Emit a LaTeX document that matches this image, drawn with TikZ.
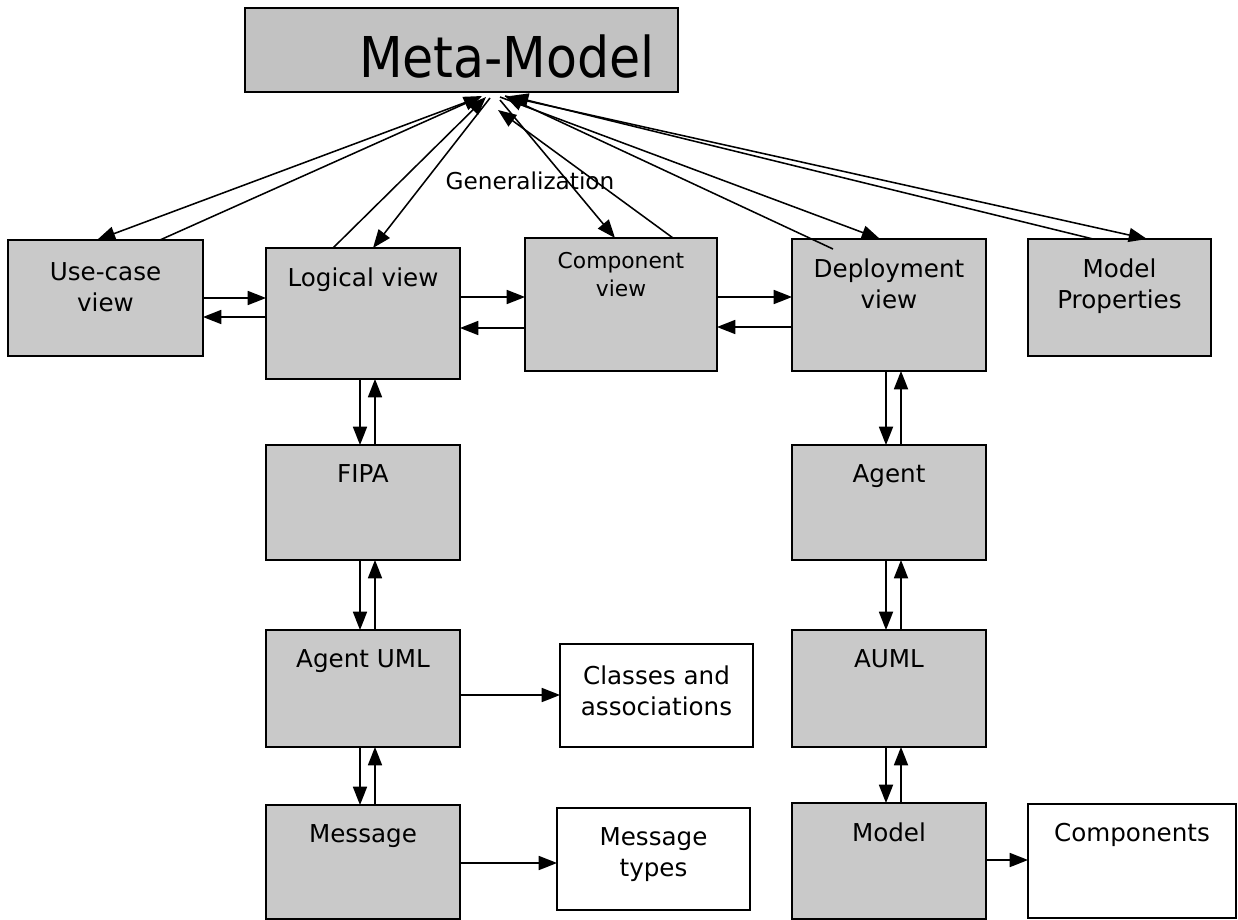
\documentclass[tikz,border=0pt]{standalone}
\usepackage{fontspec}
\setmainfont{DejaVu Sans}
\newfontfamily\metafont[FakeStretch=0.9]{DejaVu Sans}
\usetikzlibrary{arrows.meta,calc}

\begin{document}
\begin{tikzpicture}[x=0.025cm,y=-0.025cm,
  wh/.style 2 args={minimum width=#1*0.025cm,minimum height=#2*0.025cm},
  viewbox/.style={draw,line width=1.3pt,fill=boxgray,inner sep=0pt,outer sep=0pt},
  plainbox/.style={viewbox,fill=white},
  txt/.style={anchor=north,align=center,inner sep=0pt,yshift=-0.48cm,font=\fontsize{17.5}{22}\selectfont},
  arr/.style={-{Triangle[length=13pt,width=10pt]},line width=1.1pt}]
\definecolor{boxgray}{HTML}{C9C9C9}
\definecolor{metagray}{HTML}{C2C2C2}
\useasboundingbox (0,0) rectangle (1238,920);
\node[viewbox,fill=metagray,wh={433}{84}] (meta) at (461.5,50) {};
\node[inner sep=0pt,font=\metafont\fontsize{40}{40}\selectfont] (metatext) at (507,57) {Meta-Model};
\node[viewbox,wh={195}{116},label={[txt,yshift=-0.07cm]north:{Use-case\\view}}] (usecase) at (105.5,298) {};
\node[viewbox,wh={194}{131},label={[txt]north:Logical view}] (logical) at (363,313.5) {};
\node[viewbox,wh={192}{133},label={[txt,yshift=0.12cm,font=\fontsize{15.5}{19.5}\selectfont]north:{Component\\view}}] (component) at (621,304.5) {};
\node[viewbox,wh={194}{132},label={[txt]north:{Deployment\\view}}] (deploy) at (889,305) {};
\node[viewbox,wh={183}{117},label={[txt]north:{Model\\Properties}}] (modelprop) at (1119.5,297.5) {};
\node[viewbox,wh={194}{115},label={[txt]north:FIPA}] (fipa) at (363,502.5) {};
\node[viewbox,wh={194}{117},label={[txt]north:Agent UML}] (agentuml) at (363,688.5) {};
\node[viewbox,wh={194}{114},label={[txt]north:Message}] (message) at (363,862) {};
\node[viewbox,wh={194}{115},label={[txt]north:Agent}] (agent) at (889,502.5) {};
\node[viewbox,wh={194}{117},label={[txt]north:AUML}] (auml) at (889,688.5) {};
\node[viewbox,wh={194}{116},label={[txt]north:Model}] (model) at (889,861) {};
\node[plainbox,wh={193}{103},label={[txt,yshift=-0.05cm]north:{Classes and\\associations}}] (classes) at (656.5,695.5) {};
\node[plainbox,wh={193}{102},label={[txt]north:{Message\\types}}] (msgtypes) at (653.5,859) {};
\node[plainbox,wh={208}{114},label={[txt]north:Components}] (components) at (1132,861) {};
\node[font=\fontsize{16.5}{16.5}\selectfont] (genlabel) at (530,181) {Generalization};
\draw[arr] ($(meta.south)+(18.5,5)$) -- ($(usecase.north)+(-8.5,0)$);
\draw[arr] ($(usecase.north)+(54.5,0)$) -- ($(meta.south)+(20.5,4)$);
\draw[arr] ($(meta.south)+(28.5,6)$) -- ($(logical.north)+(10,0)$);
\draw[arr] ($(logical.north)+(-30,0)$) -- ($(meta.south)+(24.5,5)$);
\draw[arr] ($(meta.south)+(38.5,8)$) -- ($(component.north)+(-6,0)$);
\draw[arr] ($(component.north)+(52,0)$) -- ($(meta.south)+(36.5,18)$);
\draw[arr] ($(meta.south)+(38.5,5)$) -- ($(deploy.north)+(-9,0)$);
\draw[arr] ($(deploy.north)+(-56,10)$) -- ($(meta.south)+(43.5,4)$);
\draw[arr] ($(meta.south)+(43.5,4)$) -- ($(modelprop.north)+(27.5,0)$);
\draw[arr] ($(modelprop.north)+(-26.5,0)$) -- ($(meta.south)+(48.5,4)$);
\foreach \a/\b/\ya/\yb in {usecase/logical/298/317,logical/component/297/328,component/deploy/297/327}
{ \draw[arr] (\a.east |- 0,\ya) -- (\b.west |- 0,\ya);
  \draw[arr] (\b.west |- 0,\yb) -- (\a.east |- 0,\yb);}
\foreach \a/\b in {logical/fipa,fipa/agentuml,agentuml/message,deploy/agent,agent/auml,auml/model}
{ \draw[arr] ($(\a.south)+(-3,0)$) -- ($(\a.south |- \b.north)+(-3,0)$);
  \draw[arr] ($(\b.north)+(12,0)$) -- ($(\b.north |- \a.south)+(12,0)$);}
\draw[arr] (agentuml.east |- 0,695) -- (classes.west |- 0,695);
\draw[arr] (message.east |- 0,863) -- (msgtypes.west |- 0,863);
\draw[arr] (model.east |- 0,860) -- (components.west |- 0,860);
\end{tikzpicture}
\end{document}
